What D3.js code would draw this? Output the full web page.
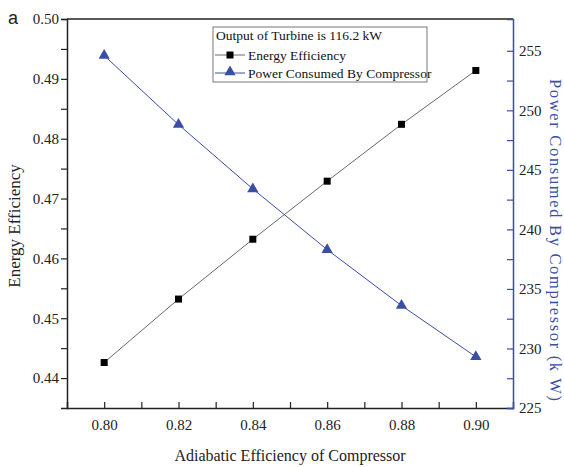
<!DOCTYPE html>
<html>
<head>
<meta charset="utf-8">
<script src="https://cdn.jsdelivr.net/npm/d3@7"></script>
<style>
  body { margin: 0; background: #fff; }
  #chart { width: 564px; height: 467px; }
  text { font-family: "Liberation Serif", "Times New Roman", serif; }
</style>
</head>
<body>
<div id="chart"></div>
<script>
/* DATA */
const compressorEff = [0.80, 0.82, 0.84, 0.86, 0.88, 0.90];
const energyEff = [0.4426, 0.4532, 0.4632, 0.4729, 0.4824, 0.4914];
const powerConsumed = [254.6, 248.8, 243.4, 238.3, 233.6, 229.3];
const xTicks = [0.80, 0.82, 0.84, 0.86, 0.88, 0.90];
const yLeftTicks = [0.44, 0.45, 0.46, 0.47, 0.48, 0.49, 0.50];
const yRightTicks = [225, 230, 235, 240, 245, 250, 255];

const width = 564, height = 467;
const margin = {top: 19, left: 67, right: 51, bottom: 59};
const blue = "#3a4ea6";
const serif = "'Liberation Serif', 'Times New Roman', serif";

const svg = d3.select("#chart").append("svg")
    .attr("width", width).attr("height", height);

/* SCALES */
const x = d3.scaleLinear().domain([0.79, 0.91]).range([margin.left, width - margin.right]);
const yL = d3.scaleLinear().domain([0.435, 0.50]).range([height - margin.bottom, margin.top]);
const yR = d3.scaleLinear().domain([225, 257.67]).range([height - margin.bottom, margin.top]);

/* TOP FRAME */
svg.append("line")
    .attr("x1", margin.left).attr("x2", width - margin.right)
    .attr("y1", margin.top).attr("y2", margin.top)
    .attr("stroke", "#222").attr("stroke-width", 1.5);

/* AXES */
const xAxis = svg.append("g")
    .attr("transform", `translate(0,${height - margin.bottom})`)
    .call(d3.axisBottom(x).tickValues(d3.range(0.80, 0.9001, 0.01)).tickSize(-6).tickPadding(11)
        .tickFormat(d => xTicks.some(t => Math.abs(t - d) < 1e-6) ? d.toFixed(2) : ""));

const yAxisL = svg.append("g")
    .attr("transform", `translate(${margin.left},0)`)
    .call(d3.axisLeft(yL).tickValues(d3.range(0.44, 0.5001, 0.005)).tickSize(6).tickPadding(2)
        .tickFormat(d => yLeftTicks.some(t => Math.abs(t - d) < 1e-6) ? d.toFixed(2) : ""));

const yAxisR = svg.append("g")
    .attr("transform", `translate(${width - margin.right},0)`)
    .call(d3.axisRight(yR).tickValues(d3.range(225, 256, 2.5)).tickSize(-6).tickPadding(6)
        .tickFormat(d => yRightTicks.includes(d) ? d : ""));

[xAxis, yAxisL].forEach(a => {
    a.select(".domain").attr("stroke", "#222").attr("stroke-width", 1.5);
    a.selectAll(".tick line").attr("stroke", "#222").attr("stroke-width", 1.2);
});
yAxisR.select(".domain").attr("stroke", blue).attr("stroke-width", 1.5);
yAxisR.selectAll(".tick line").attr("stroke", blue).attr("stroke-width", 1.2);
[xAxis, yAxisL, yAxisR].forEach(a => {
    a.attr("font-family", serif).attr("font-size", 15);
    a.selectAll(".tick text").attr("fill", "#222")
        .style("font-size", "15px").style("font-family", serif);
});

/* LINES */
const lineE = d3.line().x((d, i) => x(compressorEff[i])).y(d => yL(d));
const lineP = d3.line().x((d, i) => x(compressorEff[i])).y(d => yR(d));

svg.append("path").datum(energyEff).attr("d", lineE)
    .attr("fill", "none").attr("stroke", "#444").attr("stroke-width", 0.8);
svg.append("path").datum(powerConsumed).attr("d", lineP)
    .attr("fill", "none").attr("stroke", blue).attr("stroke-width", 1);

/* POINTS */
svg.selectAll(".sq").data(energyEff).enter().append("rect")
    .attr("class", "sq")
    .attr("x", (d, i) => x(compressorEff[i]) - 3.5)
    .attr("y", d => yL(d) - 3.5)
    .attr("width", 7).attr("height", 7).attr("fill", "#000");

const tri = d3.symbol().type(d3.symbolTriangle).size(55);
svg.selectAll(".tri").data(powerConsumed).enter().append("path")
    .attr("class", "tri")
    .attr("d", tri)
    .attr("transform", (d, i) => `translate(${x(compressorEff[i])},${yR(d)})`)
    .attr("fill", blue);

/* LEGEND */
const lg = svg.append("g").attr("transform", "translate(213,27)");
lg.append("rect").attr("width", 214).attr("height", 55)
    .attr("fill", "#fff").attr("stroke", "#555").attr("stroke-width", 0.8);
lg.append("text").attr("x", 3).attr("y", 13).style("font-size", "13.5px").style("font-family", serif)
    .attr("fill", "#111").text("Output of Turbine is 116.2 kW");
lg.append("line").attr("x1", 2).attr("x2", 32).attr("y1", 28).attr("y2", 28)
    .attr("stroke", "#444").attr("stroke-width", 0.8);
lg.append("rect").attr("x", 13.5).attr("y", 24.5).attr("width", 7).attr("height", 7).attr("fill", "#000");
lg.append("text").attr("x", 35).attr("y", 33).style("font-size", "13.5px").style("font-family", serif)
    .attr("fill", "#111").text("Energy Efficiency");
lg.append("line").attr("x1", 2).attr("x2", 32).attr("y1", 46).attr("y2", 46)
    .attr("stroke", blue).attr("stroke-width", 1);
lg.append("path").attr("d", tri).attr("transform", "translate(17,45)").attr("fill", blue);
lg.append("text").attr("x", 35).attr("y", 51).style("font-size", "13.5px").style("font-family", serif)
    .attr("fill", "#111").text("Power Consumed By Compressor");

/* AXIS LABELS */
svg.append("text")
    .attr("x", 290)
    .attr("y", 461)
    .attr("text-anchor", "middle")
    .style("font-size", "16px").style("font-family", serif).attr("fill", "#222")
    .text("Adiabatic Efficiency of Compressor");

svg.append("text")
    .attr("transform", "rotate(-90)")
    .attr("x", -226).attr("y", 20)
    .attr("text-anchor", "middle")
    .style("font-size", "17px").style("font-family", serif).attr("fill", "#222")
    .text("Energy Efficiency");

svg.append("text")
    .attr("transform", "rotate(90)")
    .attr("x", 240).attr("y", -550)
    .attr("text-anchor", "middle")
    .attr("textLength", 322).attr("lengthAdjust", "spacing")
    .style("font-size", "16.5px").style("font-family", serif).attr("fill", blue)
    .text("Power Consumed By Compressor (k W)");

svg.append("text")
    .attr("x", 8).attr("y", 24)
    .style("font-family", "'Liberation Sans', Arial, sans-serif")
    .style("font-size", "18px").attr("fill", "#222")
    .text("a");
</script>
</body>
</html>
